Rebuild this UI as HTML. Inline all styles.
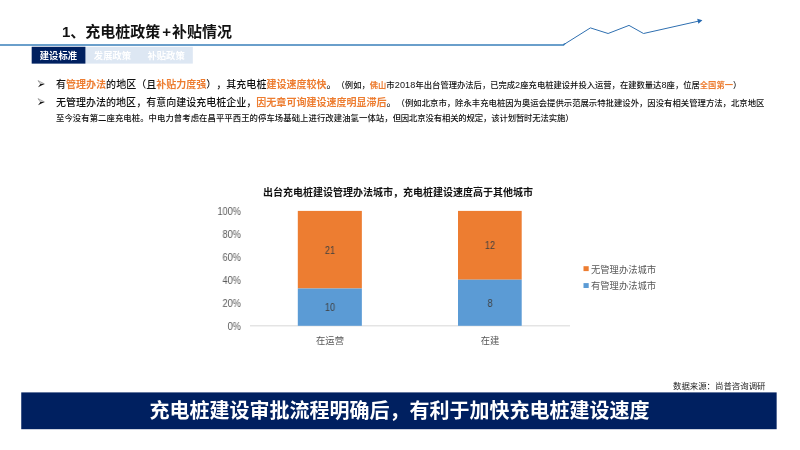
<!DOCTYPE html>
<html lang="zh-CN">
<head>
<meta charset="utf-8">
<title>充电桩政策+补贴情况</title>
<style>
  html, body { margin: 0; padding: 0; }
  body {
    width: 800px; height: 450px; overflow: hidden; background: #ffffff;
    font-family: "Liberation Sans", "Noto Sans CJK SC", sans-serif;
    color: #1a1a1a; position: relative;
  }
  .abs { position: absolute; white-space: nowrap; text-spacing-trim: space-all; will-change: transform; }
  .title {
    left: 62px; top: 20px; height: 24px; line-height: 24px;
    font-size: 15px; font-weight: 700; color: #111;
  }
  .tabs { left: 31.7px; top: 47px; height: 17px; width: 162px; display: flex; }
  .tab {
    width: 53.7px; height: 17px; line-height: 18.6px; text-align: center; overflow: hidden;
    font-size: 9.3px; font-weight: 700; color: #ffffff;
  }
  .bullet { left: 37px; width: 8px; height: 8px; }
  .line { left: 56px; height: 16px; line-height: 16px; font-size: 10.02px; color: #111; font-weight: 500; }
  .line .o { color: #ed7d31; font-weight: 700; }
  .line .s { font-size: 8.31px; }
  .d { font-size: 9.1px; letter-spacing: 0.15px; }
  .line.small { font-size: 8.36px; }
  .chart-title { left: 250px; width: 296px; text-align: center; top: 185px; height: 16px; line-height: 16px; font-size: 10px; font-weight: 700; color: #111; }
  .ylab { left: 199px; width: 42px; text-align: right; height: 14px; line-height: 14px; font-size: 10px; color: #595959; transform: scaleX(0.925); transform-origin: 100% 50%; }
  .xlab { height: 14px; line-height: 14px; font-size: 9.3px; color: #595959; text-align: center; width: 64px; }
  .bar { position: absolute; }
  .dl { font-size: 10.2px; color: #404040; text-align: center; height: 14px; line-height: 14px; width: 64px; transform: scaleX(0.88); transform-origin: 50% 50%; }
  .leg { left: 591.4px; height: 14px; line-height: 14px; font-size: 9.3px; color: #595959; }
  .src { right: 34.6px; top: 379px; height: 14px; line-height: 14px; font-size: 8.42px; color: #1c1c1c; }
  .banner {
    left: 21px; top: 392px; width: 756px; height: 38px;
    color: #fff; font-weight: 700; font-size: 20px; line-height: 38px; text-align: center; text-indent: 1.2px;
  }
</style>
</head>
<body>

<!-- header line with arrow -->
<svg class="abs" style="left:0;top:0" width="800" height="70" viewBox="0 0 800 70">
  <polyline points="0,45 563.1,45 565,43.85" fill="none" stroke="#6a9fcb" stroke-width="1.8" stroke-linejoin="miter"/>
  <polyline points="563.1,45 590.4,27.9 608.1,33.5 629,25.4 643.5,33.5 698.5,21.15" fill="none" stroke="#2e6fb0" stroke-width="1" stroke-linejoin="miter"/>
  <polygon points="702.4,20.25 697.2,18.7 698.4,23.7" fill="#2468b0"/>
</svg>

<!-- shapes layer: tabs, bars, axis, legend keys, banner -->
<svg class="abs" style="left:0;top:0" width="800" height="450" viewBox="0 0 800 450">
  <rect x="31.7" y="46.8" width="161.1" height="16.8" fill="#dde7f3"/>
  <rect x="31.7" y="46.8" width="53.7" height="16.8" fill="#002060"/>
  <rect x="250" y="325.2" width="320" height="1.2" fill="#dedede"/>
  <rect x="297.8" y="210.9" width="64.05" height="77.6" fill="#ed7d31"/>
  <rect x="297.8" y="288.5" width="64.05" height="37.3" fill="#5b9bd5"/>
  <rect x="458" y="210.9" width="63.7" height="68.8" fill="#ed7d31"/>
  <rect x="458" y="279.7" width="63.7" height="46.1" fill="#5b9bd5"/>
  <rect x="583.5" y="266.2" width="5.2" height="4.9" fill="#ed7d31"/>
  <rect x="583.5" y="283.1" width="5.2" height="4.9" fill="#5b9bd5"/>
  <rect x="21.25" y="392.4" width="755.4" height="36.8" fill="#002060"/>
</svg>

<div class="abs title">1、充电桩政策<span style="margin:0 1px 0 2px">+</span>补贴情况</div>

<div class="abs tabs">
  <div class="tab on" style="width:53.6px;text-indent:-0.8px">建设标准</div>
  <div class="tab">发展政策</div>
  <div class="tab">补贴政策</div>
</div>

<!-- bullets -->
<svg class="abs bullet" style="top:79.5px" viewBox="0 0 8 8"><path d="M1,0.6 L7.4,3.9 L3.4,4.0 Z" fill="#e6e6e6" stroke="#444" stroke-width="0.4" stroke-linejoin="miter"/><path d="M7.4,3.9 L1,7.3 L3.4,4.0 Z" fill="#111"/></svg>
<svg class="abs bullet" style="top:97.5px" viewBox="0 0 8 8"><path d="M1,0.6 L7.4,3.9 L3.4,4.0 Z" fill="#e6e6e6" stroke="#444" stroke-width="0.4" stroke-linejoin="miter"/><path d="M7.4,3.9 L1,7.3 L3.4,4.0 Z" fill="#111"/></svg>

<div class="abs line" style="top:77px">有<span class="o">管理办法</span>的地区（且<span class="o">补贴力度强</span>），其充电桩<span class="o">建设速度较快</span>。<span class="s">（例如，<span class="o">佛山</span>市<span class="d">2018</span>年出台管理办法后，已完成<span class="d">2</span>座充电桩建设并投入运营，在建数量达<span class="d">8</span>座，位居<span class="o">全国第一</span>）</span></div>
<div class="abs line" style="top:95px">无管理办法的地区，有意向建设充电桩企业，<span class="o">因无章可询建设速度明显滞后</span>。<span class="s" style="font-size:8.37px">（例如北京市，除永丰充电桩因为奥运会提供示范展示特批建设外，因没有相关管理方法，北京地区</span></div>
<div class="abs line small" style="top:110px"><span style="letter-spacing:0.072px">至今没有第二座充电桩。中电力曾考虑在昌平平西王的停车场基础上进行改建油氢一体站，</span><span style="letter-spacing:-0.127px">但因北京没有相关的规定，该计划暂时无法实施）</span></div>

<!-- chart -->
<div class="abs chart-title">出台充电桩建设管理办法城市，充电桩建设速度高于其他城市</div>

<div class="abs ylab" style="top:205.2px">100%</div>
<div class="abs ylab" style="top:228.2px">80%</div>
<div class="abs ylab" style="top:251.2px">60%</div>
<div class="abs ylab" style="top:274.3px">40%</div>
<div class="abs ylab" style="top:297.3px">20%</div>
<div class="abs ylab" style="top:320.3px">0%</div>


<div class="abs dl" style="left:298px;top:244px">21</div>
<div class="abs dl" style="left:298px;top:301px">10</div>
<div class="abs dl" style="left:458.4px;top:239px">12</div>
<div class="abs dl" style="left:458.4px;top:297px">8</div>

<div class="abs xlab" style="left:298.1px;top:334.2px">在运营</div>
<div class="abs xlab" style="left:458.3px;top:334.2px">在建</div>

<div class="abs leg" style="top:262.5px">无管理办法城市</div>
<div class="abs leg" style="top:278.8px">有管理办法城市</div>

<div class="abs src">数据来源：尚普咨询调研</div>
<div class="abs banner">充电桩建设审批流程明确后，有利于加快充电桩建设速度</div>

</body>
</html>
